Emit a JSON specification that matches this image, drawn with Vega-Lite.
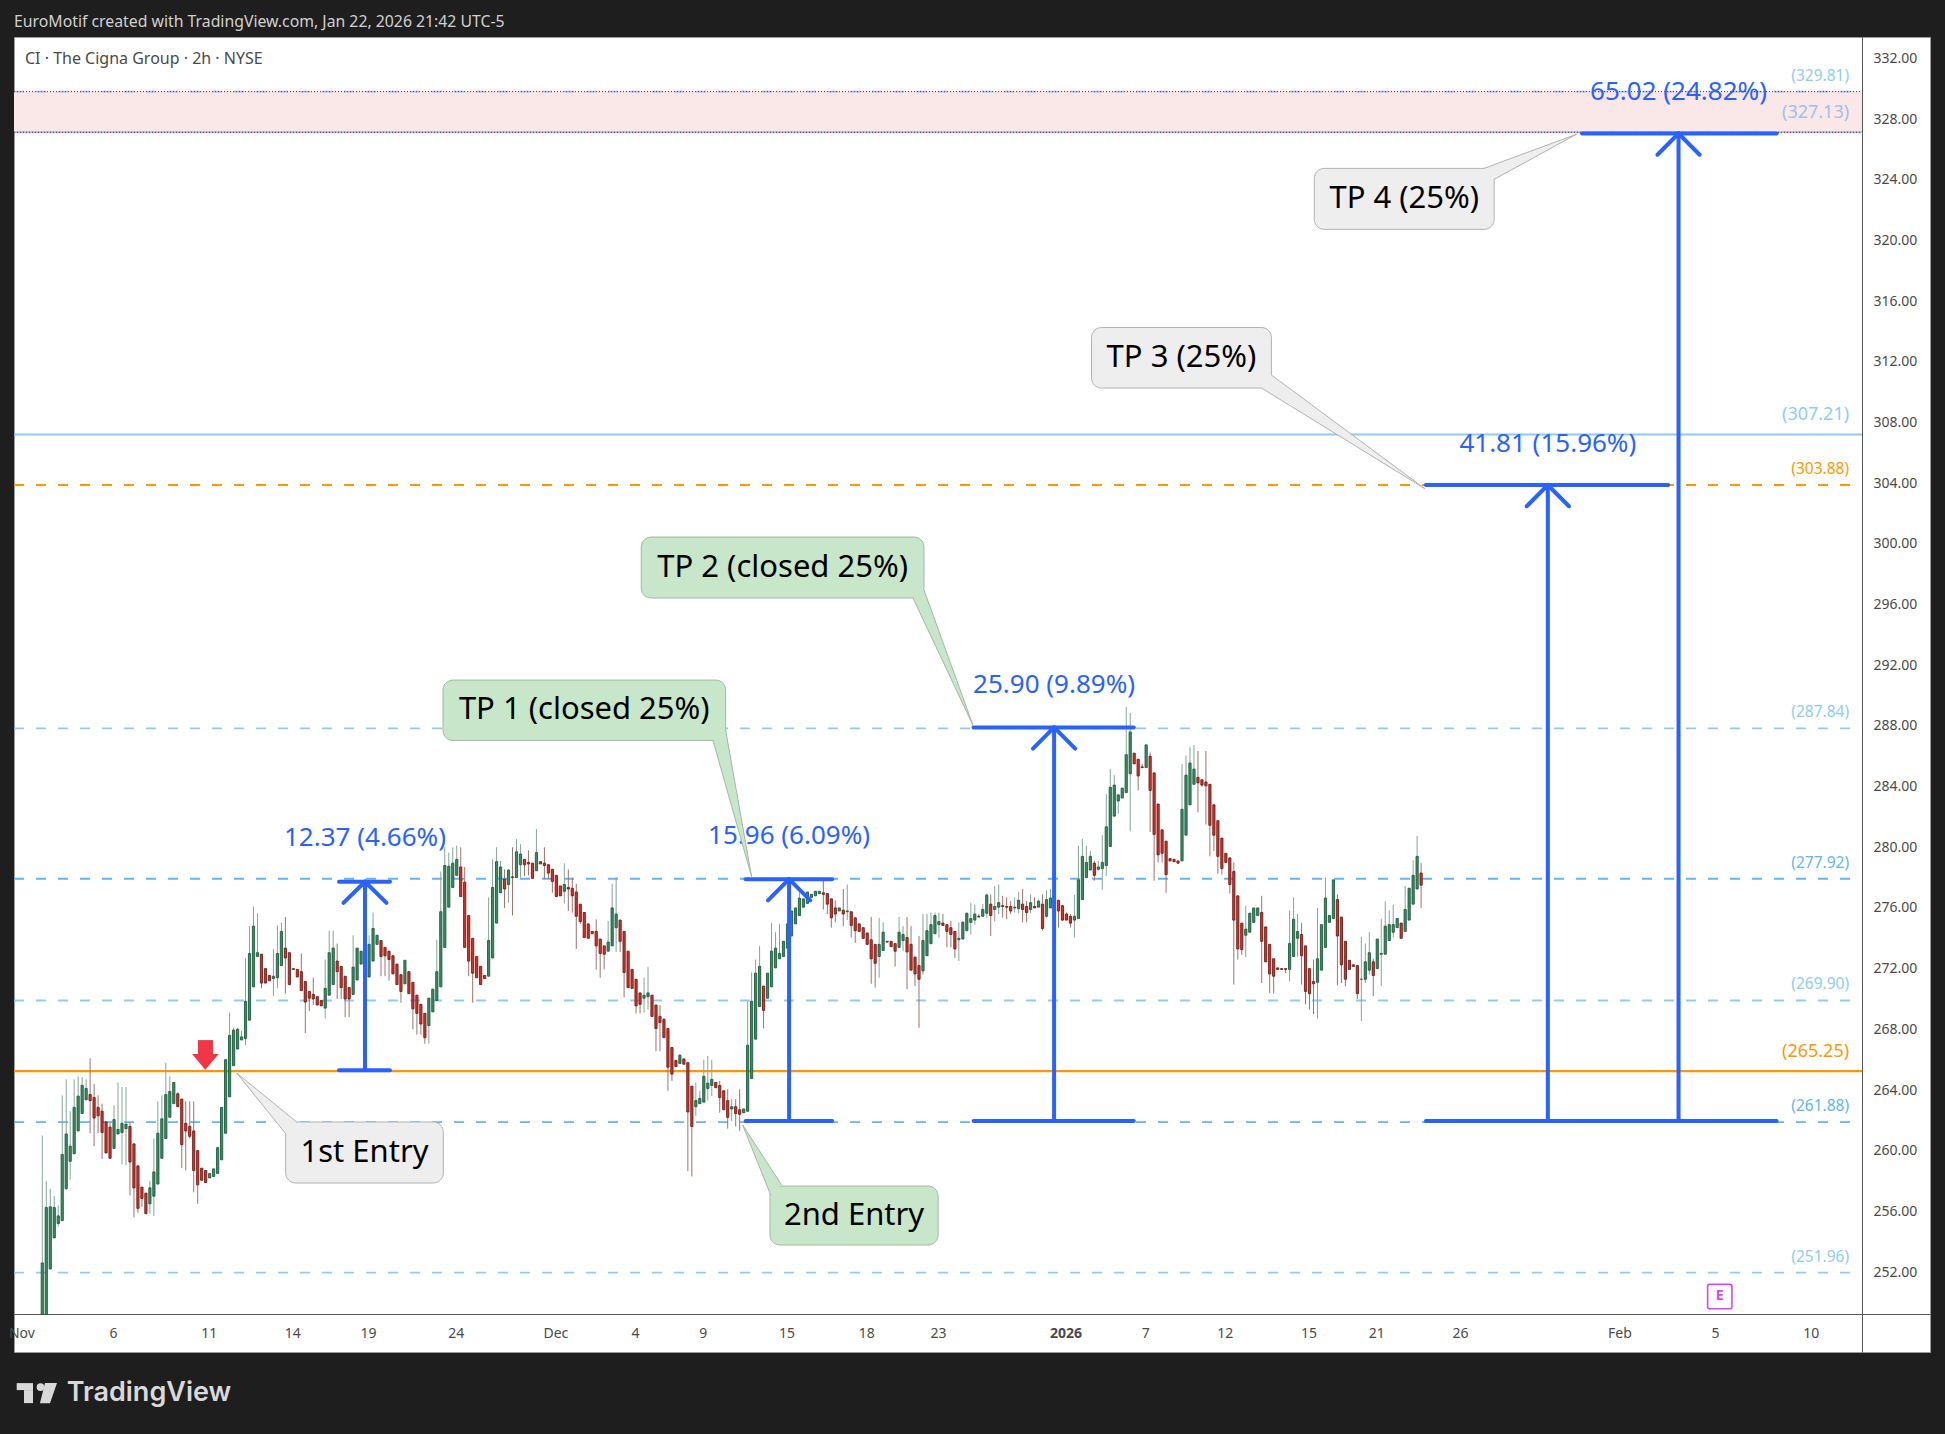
{
"$schema":"https://vega.github.io/schema/vega-lite/v6.json",
"width":1916,"height":1315,
"autosize":{"type":"none"},
"padding":{"left":14,"top":37,"right":15,"bottom":82},
"background":"#1e1e1e",
"config":{"font":"Noto Sans","view":{"fill":"#ffffff","stroke":"#9a9a9a"},"axis":{"title":null,"grid":false,"ticks":false,"domainColor":"#555555","labelColor":"#4a4a4a","labelFontSize":14,"labelPadding":11,"labelOverlap":false,"labelFlush":false}},
"title":{"text":"EuroMotif created with TradingView.com, Jan 22, 2026 21:42 UTC-5","anchor":"start","frame":"group","color":"#d1d1d1","fontSize":15.8,"fontWeight":"normal","offset":6},
"datasets":{
"candles":[
{"i":0,"o":249.2,"h":261,"l":249.2,"c":252.6},{"i":1,"o":249.2,"h":258,"l":249.2,"c":256.25},{"i":2,"o":252.2,"h":257.5,"l":252.2,"c":256.3},{"i":3,"o":254.25,"h":257,"l":254.25,"c":256.25},{"i":4,"o":255.2,"h":256.4,"l":255,"c":255.7},{"i":5,"o":255.4,"h":263.65,"l":255.4,"c":259.75},{"i":6,"o":257.5,"h":264.7,"l":257.4,"c":261.1},{"i":7,"o":259.3,"h":262.6,"l":258.1,"c":260.3},{"i":8,"o":259.8,"h":264.7,"l":259.8,"c":262.85},{"i":9,"o":261.3,"h":264.9,"l":261.3,"c":263.6},
{"i":10,"o":262.45,"h":264.85,"l":262.45,"c":264.3},{"i":11,"o":263.35,"h":264.7,"l":263.35,"c":264.1},{"i":12,"o":263.7,"h":266.1,"l":261.15,"c":263.3},{"i":13,"o":263.5,"h":264.4,"l":260.3,"c":262.15},{"i":14,"o":262.85,"h":263.65,"l":261.15,"c":262.3},{"i":15,"o":262.6,"h":263.1,"l":259.45,"c":261.2},{"i":16,"o":261.9,"h":261.9,"l":259.85,"c":259.85},{"i":17,"o":261.55,"h":261.85,"l":259.5,"c":259.5},{"i":18,"o":260.15,"h":263,"l":260.15,"c":262.05},{"i":19,"o":261.1,"h":264.5,"l":261.1,"c":261.4},
{"i":20,"o":261.2,"h":264.2,"l":259.1,"c":261.8},{"i":21,"o":261.45,"h":264.2,"l":259.05,"c":261.75},{"i":22,"o":261.6,"h":261.85,"l":257.05,"c":259.25},{"i":23,"o":260.45,"h":260.45,"l":255.6,"c":257.55},{"i":24,"o":259,"h":259,"l":255.9,"c":256.2},{"i":25,"o":257.6,"h":257.6,"l":256.3,"c":256.85},{"i":26,"o":257.2,"h":257.2,"l":255.85,"c":255.85},{"i":27,"o":256.5,"h":258,"l":255.85,"c":257.55},{"i":28,"o":257,"h":260.8,"l":255.7,"c":258.6},{"i":29,"o":257.8,"h":263.25,"l":257.8,"c":261.15},
{"i":30,"o":259.5,"h":263.65,"l":259.5,"c":262.1},{"i":31,"o":260.8,"h":265.8,"l":260.8,"c":263.7},{"i":32,"o":262.2,"h":264.9,"l":262.2,"c":263.9},{"i":33,"o":263.1,"h":264.5,"l":263.1,"c":264.5},{"i":34,"o":263.75,"h":263.85,"l":262.9,"c":262.9},{"i":35,"o":263.4,"h":263.4,"l":258.85,"c":260.4},{"i":36,"o":261.8,"h":263.25,"l":258.7,"c":261.3},{"i":37,"o":261.6,"h":263.25,"l":260.8,"c":260.95},{"i":38,"o":261.3,"h":263.25,"l":257.25,"c":258.7},{"i":39,"o":260,"h":260,"l":256.5,"c":257.75},
{"i":40,"o":258.85,"h":258.85,"l":258.05,"c":258.05},{"i":41,"o":258.7,"h":258.7,"l":257.9,"c":257.9},{"i":42,"o":258.2,"h":258.5,"l":258.2,"c":258.5},{"i":43,"o":258.3,"h":258.8,"l":258.3,"c":258.8},{"i":44,"o":258.5,"h":260.2,"l":258.5,"c":260.2},{"i":45,"o":259.4,"h":262.85,"l":259.4,"c":262.85},{"i":46,"o":261.15,"h":266,"l":261.15,"c":266},{"i":47,"o":263.55,"h":269.1,"l":263.55,"c":267.6},{"i":48,"o":265.6,"h":268.1,"l":265.6,"c":267.95},{"i":49,"o":266.7,"h":268.1,"l":266.7,"c":268},
{"i":50,"o":267.3,"h":267.9,"l":267.3,"c":267.5},{"i":51,"o":267.4,"h":272.7,"l":266.95,"c":269.85},{"i":52,"o":268.6,"h":274.8,"l":268.6,"c":273},{"i":53,"o":270.8,"h":276.1,"l":270.8,"c":274.8},{"i":54,"o":272.8,"h":275.65,"l":272.8,"c":273.05},{"i":55,"o":272.95,"h":272.95,"l":270.7,"c":271.05},{"i":56,"o":272,"h":272,"l":271.05,"c":271.05},{"i":57,"o":271.55,"h":271.55,"l":271.2,"c":271.2},{"i":58,"o":271.35,"h":273.3,"l":270.2,"c":271.5},{"i":59,"o":271.4,"h":274.85,"l":270.7,"c":273},
{"i":60,"o":272.2,"h":275.05,"l":272.2,"c":274.45},{"i":61,"o":273.35,"h":275.4,"l":270.35,"c":272.7},{"i":62,"o":273.05,"h":273.05,"l":270.95,"c":270.95},{"i":63,"o":272,"h":272,"l":271.95,"c":271.95},{"i":64,"o":271.95,"h":271.95,"l":271.45,"c":271.45},{"i":65,"o":271.8,"h":273,"l":270.55,"c":270.55},{"i":66,"o":271.15,"h":271.15,"l":267.75,"c":269.8},{"i":67,"o":270.5,"h":270.5,"l":269.2,"c":270.05},{"i":68,"o":270.3,"h":271.4,"l":269.6,"c":270},{"i":69,"o":270.15,"h":270.15,"l":269.6,"c":269.6},
{"i":70,"o":269.9,"h":269.9,"l":269.55,"c":269.55},{"i":71,"o":269.4,"h":272.6,"l":268.7,"c":270.7},{"i":72,"o":270.25,"h":274.5,"l":270.25,"c":273.05},{"i":73,"o":270.95,"h":274.5,"l":270.95,"c":273.35},{"i":74,"o":272.5,"h":273.65,"l":270,"c":271.8},{"i":75,"o":272.15,"h":272.15,"l":270,"c":270.75},{"i":76,"o":271.5,"h":271.5,"l":268.8,"c":270},{"i":77,"o":270.75,"h":270.75,"l":268.8,"c":270},{"i":78,"o":270.3,"h":274.2,"l":270.3,"c":272.1},{"i":79,"o":271.25,"h":273.35,"l":271.25,"c":273.35},
{"i":80,"o":272.3,"h":273.15,"l":272.3,"c":273.15},{"i":81,"o":272.65,"h":274.2,"l":270.3,"c":270.3},{"i":82,"o":271.45,"h":274.2,"l":271.45,"c":273.6},{"i":83,"o":272.5,"h":275.7,"l":272.5,"c":274.65},{"i":84,"o":273.6,"h":274.2,"l":273.6,"c":274.2},{"i":85,"o":273.85,"h":273.85,"l":271.5,"c":272.8},{"i":86,"o":273.4,"h":273.4,"l":271.5,"c":272.85},{"i":87,"o":273.15,"h":273.15,"l":271.2,"c":272.6},{"i":88,"o":272.85,"h":272.85,"l":271.65,"c":271.65},{"i":89,"o":272.3,"h":272.3,"l":270.95,"c":270.95},
{"i":90,"o":271.6,"h":271.6,"l":269.75,"c":270.5},{"i":91,"o":271,"h":272.55,"l":271,"c":272.55},{"i":92,"o":271.8,"h":271.8,"l":270.35,"c":270.35},{"i":93,"o":271.1,"h":271.1,"l":268,"c":269.35},{"i":94,"o":270.25,"h":270.25,"l":267.65,"c":269.05},{"i":95,"o":269.65,"h":269.65,"l":267.65,"c":268.35},{"i":96,"o":269.05,"h":269.05,"l":267.05,"c":267.45},{"i":97,"o":268.25,"h":270.05,"l":267.05,"c":270.05},{"i":98,"o":269.15,"h":270.65,"l":269.15,"c":270.65},{"i":99,"o":269.9,"h":273.9,"l":269.9,"c":271.8},
{"i":100,"o":270.8,"h":278.4,"l":270.8,"c":275.75},{"i":101,"o":273.4,"h":280,"l":273.4,"c":278.8},{"i":102,"o":276.05,"h":279.65,"l":276.05,"c":278.75},{"i":103,"o":277.35,"h":280,"l":277.35,"c":278.95},{"i":104,"o":278.15,"h":280.1,"l":278.15,"c":279.2},{"i":105,"o":278.7,"h":280,"l":276.75,"c":276.75},{"i":106,"o":277.7,"h":278.7,"l":273.4,"c":273.4},{"i":107,"o":275.5,"h":275.5,"l":271.5,"c":272.5},{"i":108,"o":274,"h":274,"l":269.75,"c":271.7},{"i":109,"o":272.8,"h":272.8,"l":271.4,"c":271.4},
{"i":110,"o":272.15,"h":272.15,"l":270.95,"c":270.95},{"i":111,"o":271.55,"h":271.55,"l":271.35,"c":271.35},{"i":112,"o":271.5,"h":276.7,"l":271.5,"c":273.85},{"i":113,"o":272.7,"h":279.2,"l":272.7,"c":277.35},{"i":114,"o":275,"h":280,"l":275,"c":279.05},{"i":115,"o":277,"h":279.1,"l":277,"c":278.7},{"i":116,"o":277.9,"h":278.55,"l":276,"c":277.25},{"i":117,"o":277.55,"h":278.55,"l":276.35,"c":278.5},{"i":118,"o":278.05,"h":280,"l":275.5,"c":278},{"i":119,"o":278,"h":280.55,"l":278,"c":279.7},
{"i":120,"o":278.85,"h":280.2,"l":278,"c":279.55},{"i":121,"o":279.2,"h":279.2,"l":278.1,"c":278.85},{"i":122,"o":279,"h":279.8,"l":278.15,"c":278.9},{"i":123,"o":278.95,"h":278.95,"l":277.95,"c":277.95},{"i":124,"o":278.45,"h":281.2,"l":278.45,"c":279.65},{"i":125,"o":279.05,"h":279.05,"l":278.9,"c":278.9},{"i":126,"o":278.95,"h":280,"l":277.9,"c":278.8},{"i":127,"o":278.85,"h":278.85,"l":277.9,"c":278.3},{"i":128,"o":278.55,"h":278.55,"l":277,"c":277.75},{"i":129,"o":278.15,"h":278.15,"l":276.75,"c":276.75},
{"i":130,"o":277.45,"h":277.45,"l":276.8,"c":276.8},{"i":131,"o":277.1,"h":278.95,"l":276.3,"c":277.55},{"i":132,"o":277.35,"h":278.55,"l":275.8,"c":277.25},{"i":133,"o":277.3,"h":278,"l":275.7,"c":276.8},{"i":134,"o":277.05,"h":277.6,"l":273.3,"c":275.45},{"i":135,"o":276.25,"h":276.25,"l":274.95,"c":275.1},{"i":136,"o":275.7,"h":275.7,"l":274.05,"c":274.05},{"i":137,"o":274.95,"h":274.95,"l":274,"c":274},{"i":138,"o":274.45,"h":274.45,"l":274.3,"c":274.3},{"i":139,"o":274.45,"h":275.25,"l":271.95,"c":273.5},
{"i":140,"o":273.95,"h":273.95,"l":271.4,"c":273},{"i":141,"o":273.5,"h":273.5,"l":271.95,"c":272.95},{"i":142,"o":273.15,"h":275.15,"l":273.15,"c":273.75},{"i":143,"o":273.5,"h":277.6,"l":273.5,"c":276},{"i":144,"o":274.7,"h":278,"l":273.1,"c":275.6},{"i":145,"o":275.2,"h":275.2,"l":273.1,"c":273.8},{"i":146,"o":274.45,"h":274.45,"l":270.1,"c":271.75},{"i":147,"o":273.15,"h":273.15,"l":270.75,"c":270.75},{"i":148,"o":271.95,"h":271.95,"l":270.7,"c":270.7},{"i":149,"o":271.3,"h":271.3,"l":269.05,"c":269.55},
{"i":150,"o":270.4,"h":270.4,"l":269.05,"c":269.65},{"i":151,"o":270.05,"h":271.4,"l":269.1,"c":270.25},{"i":152,"o":270.15,"h":272.1,"l":269.3,"c":270.4},{"i":153,"o":270.25,"h":270.25,"l":268.85,"c":268.85},{"i":154,"o":269.6,"h":269.6,"l":266.55,"c":268.05},{"i":155,"o":268.85,"h":269.6,"l":266.55,"c":268.45},{"i":156,"o":268.65,"h":268.75,"l":267.45,"c":267.45},{"i":157,"o":268.05,"h":268.05,"l":263.95,"c":265.5},{"i":158,"o":266.8,"h":266.8,"l":264.6,"c":265.05},{"i":159,"o":265.95,"h":265.95,"l":265.55,"c":265.55},
{"i":160,"o":265.75,"h":266.3,"l":265.75,"c":266.3},{"i":161,"o":266.05,"h":266.05,"l":265.7,"c":265.7},{"i":162,"o":265.8,"h":265.8,"l":258.65,"c":262.55},{"i":163,"o":264.25,"h":264.25,"l":258.3,"c":261.6},{"i":164,"o":262.9,"h":264.5,"l":262.3,"c":263.3},{"i":165,"o":263.1,"h":263.95,"l":263.1,"c":263.45},{"i":166,"o":263.2,"h":266,"l":263.2,"c":264.9},{"i":167,"o":264.1,"h":266.25,"l":263.3,"c":264.45},{"i":168,"o":264.3,"h":266,"l":263.6,"c":264.7},{"i":169,"o":264.5,"h":264.5,"l":264.15,"c":264.15},
{"i":170,"o":264.3,"h":264.6,"l":262.5,"c":263.5},{"i":171,"o":263.95,"h":263.95,"l":262.7,"c":262.7},{"i":172,"o":263.3,"h":264.05,"l":261.45,"c":262.2},{"i":173,"o":262.75,"h":263.4,"l":261.95,"c":262.9},{"i":174,"o":262.9,"h":263.4,"l":261.6,"c":262.45},{"i":175,"o":262.7,"h":264.05,"l":261.3,"c":262.4},{"i":176,"o":262.5,"h":262.75,"l":262.5,"c":262.75},{"i":177,"o":262.6,"h":269.85,"l":262.6,"c":266.95},{"i":178,"o":264.75,"h":271.75,"l":264.75,"c":269.85},{"i":179,"o":267.35,"h":272.6,"l":267.35,"c":271.7},
{"i":180,"o":269.5,"h":273.5,"l":269.5,"c":272.15},{"i":181,"o":270.85,"h":270.85,"l":268.05,"c":269.25},{"i":182,"o":270.05,"h":271.7,"l":270.05,"c":271.7},{"i":183,"o":270.8,"h":275,"l":270.8,"c":273.15},{"i":184,"o":272.05,"h":274.4,"l":272.05,"c":273.35},{"i":185,"o":272.65,"h":274.95,"l":272.65,"c":273},{"i":186,"o":272.8,"h":273.8,"l":272.8,"c":273.8},{"i":187,"o":273.35,"h":274.95,"l":273.35,"c":274.95},{"i":188,"o":274.15,"h":275.8,"l":274.15,"c":275.8},{"i":189,"o":274.95,"h":276,"l":274.95,"c":276},
{"i":190,"o":275.5,"h":277.35,"l":275.5,"c":276.65},{"i":191,"o":276.05,"h":276.6,"l":276.05,"c":276.6},{"i":192,"o":276.3,"h":277.05,"l":276.3,"c":277.05},{"i":193,"o":276.7,"h":276.9,"l":276.7,"c":276.9},{"i":194,"o":276.8,"h":277.1,"l":276.8,"c":277.1},{"i":195,"o":276.95,"h":277.1,"l":276.95,"c":277.1},{"i":196,"o":277,"h":277.9,"l":275.9,"c":276.9},{"i":197,"o":276.95,"h":276.95,"l":275.6,"c":276.25},{"i":198,"o":276.6,"h":276.6,"l":274.7,"c":275.35},{"i":199,"o":276,"h":276.5,"l":275.05,"c":275.6},
{"i":200,"o":275.8,"h":276,"l":275.8,"c":276},{"i":201,"o":275.85,"h":277.25,"l":274.8,"c":275.6},{"i":202,"o":275.75,"h":277.55,"l":275.2,"c":275.8},{"i":203,"o":275.75,"h":275.75,"l":274.05,"c":274.85},{"i":204,"o":275.35,"h":275.35,"l":273.7,"c":274.5},{"i":205,"o":274.95,"h":274.95,"l":274.45,"c":274.45},{"i":206,"o":274.7,"h":274.7,"l":274,"c":274},{"i":207,"o":274.35,"h":274.35,"l":273.6,"c":273.6},{"i":208,"o":273.9,"h":275.4,"l":271,"c":272.65},{"i":209,"o":273.6,"h":273.6,"l":270.75,"c":272.35},
{"i":210,"o":272.8,"h":275.35,"l":271.4,"c":273.6},{"i":211,"o":273.2,"h":275.05,"l":273.2,"c":274.4},{"i":212,"o":273.8,"h":273.8,"l":273.75,"c":273.75},{"i":213,"o":273.8,"h":273.8,"l":273.45,"c":273.45},{"i":214,"o":273.65,"h":273.65,"l":272.15,"c":273.15},{"i":215,"o":273.4,"h":275.4,"l":273.4,"c":274.4},{"i":216,"o":273.85,"h":274.8,"l":273.15,"c":274.25},{"i":217,"o":274.05,"h":275.4,"l":270.65,"c":273.1},{"i":218,"o":273.6,"h":274.8,"l":271.9,"c":271.9},{"i":219,"o":272.75,"h":272.85,"l":270.85,"c":271.65},
{"i":220,"o":272.2,"h":274.15,"l":268.1,"c":271.3},{"i":221,"o":271.85,"h":275.6,"l":271.6,"c":273.85},{"i":222,"o":272.85,"h":275.6,"l":272.85,"c":274.5},{"i":223,"o":273.65,"h":275.7,"l":273.6,"c":274.9},{"i":224,"o":274.3,"h":275.7,"l":274.3,"c":275.5},{"i":225,"o":274.9,"h":275.7,"l":274.05,"c":275.1},{"i":226,"o":275,"h":275.6,"l":274.85,"c":274.85},{"i":227,"o":274.9,"h":274.9,"l":273.4,"c":274.45},{"i":228,"o":274.7,"h":275.15,"l":273.4,"c":274.25},{"i":229,"o":274.45,"h":274.45,"l":272.7,"c":273.3},
{"i":230,"o":273.9,"h":275.05,"l":272.5,"c":274},{"i":231,"o":273.95,"h":275.15,"l":273.95,"c":275.05},{"i":232,"o":274.5,"h":275.7,"l":274.5,"c":275.65},{"i":233,"o":275.05,"h":276.35,"l":274.25,"c":275.3},{"i":234,"o":275.2,"h":276.2,"l":274.9,"c":275.6},{"i":235,"o":275.45,"h":275.6,"l":275.4,"c":275.4},{"i":236,"o":275.45,"h":276.25,"l":275.45,"c":275.9},{"i":237,"o":275.65,"h":276.95,"l":275.35,"c":276.85},{"i":238,"o":276.25,"h":276.9,"l":274.15,"c":275.5},{"i":239,"o":275.9,"h":277.45,"l":275.1,"c":276.1},
{"i":240,"o":276.05,"h":277.55,"l":275.6,"c":276.35},{"i":241,"o":276.15,"h":276.8,"l":275.35,"c":276.1},{"i":242,"o":276.1,"h":276.7,"l":275.25,"c":276.05},{"i":243,"o":276.1,"h":276.45,"l":275.6,"c":275.8},{"i":244,"o":276,"h":276.7,"l":275.7,"c":276.05},{"i":245,"o":275.95,"h":277.05,"l":275.65,"c":276.5},{"i":246,"o":276.25,"h":277.25,"l":275.05,"c":275.9},{"i":247,"o":276.1,"h":276.45,"l":275.05,"c":275.7},{"i":248,"o":275.9,"h":276.9,"l":275.65,"c":276.35},{"i":249,"o":276.1,"h":276.7,"l":276,"c":276},
{"i":250,"o":276.05,"h":276.55,"l":276.05,"c":276.45},{"i":251,"o":276.25,"h":276.9,"l":274.5,"c":274.65},{"i":252,"o":275.45,"h":277.15,"l":275.35,"c":276.55},{"i":253,"o":276,"h":277.25,"l":276,"c":276.65},{"i":254,"o":276.3,"h":277.1,"l":275.8,"c":276.65},{"i":255,"o":276.5,"h":276.55,"l":274.7,"c":275.8},{"i":256,"o":276.15,"h":276.2,"l":275.15,"c":275.2},{"i":257,"o":275.6,"h":275.7,"l":275.2,"c":275.2},{"i":258,"o":275.45,"h":275.6,"l":274.7,"c":275},{"i":259,"o":275.2,"h":276.85,"l":274.05,"c":275.45},
{"i":260,"o":275.3,"h":280.1,"l":275.3,"c":277.85},{"i":261,"o":276.55,"h":280.55,"l":276.55,"c":279.4},{"i":262,"o":278,"h":280.1,"l":278,"c":279},{"i":263,"o":278.5,"h":279.75,"l":278.5,"c":279.4},{"i":264,"o":278.95,"h":279.1,"l":277.8,"c":278.15},{"i":265,"o":278.55,"h":279.1,"l":278.45,"c":278.7},{"i":266,"o":278.6,"h":280.8,"l":277.2,"c":279},{"i":267,"o":278.8,"h":283.5,"l":278.1,"c":281.35},{"i":268,"o":280.05,"h":285.15,"l":280.05,"c":283.95},{"i":269,"o":282.05,"h":284.75,"l":282.05,"c":284.1},
{"i":270,"o":283.05,"h":283.5,"l":282.2,"c":283.45},{"i":271,"o":283.25,"h":283.9,"l":283.25,"c":283.9},{"i":272,"o":283.6,"h":289.25,"l":283.6,"c":286.1},{"i":273,"o":284.85,"h":288.85,"l":281.05,"c":287.6},{"i":274,"o":286.2,"h":286.2,"l":285.5,"c":285.5},{"i":275,"o":285.8,"h":285.8,"l":283.75,"c":284.7},{"i":276,"o":285.3,"h":285.5,"l":285.25,"c":285.25},{"i":277,"o":285.25,"h":286.75,"l":285.25,"c":286.75},{"i":278,"o":286,"h":286.25,"l":281,"c":283.75},{"i":279,"o":284.9,"h":284.9,"l":277.8,"c":280.85},
{"i":280,"o":282.85,"h":282.85,"l":279,"c":279.5},{"i":281,"o":281.15,"h":281.15,"l":279,"c":279.6},{"i":282,"o":280.4,"h":280.4,"l":277,"c":278.2},{"i":283,"o":279.25,"h":279.25,"l":279.1,"c":279.1},{"i":284,"o":279.2,"h":279.2,"l":279.05,"c":279.05},{"i":285,"o":279.1,"h":279.1,"l":278.95,"c":278.95},{"i":286,"o":279.1,"h":285.5,"l":279.1,"c":282.5},{"i":287,"o":280.8,"h":286.05,"l":280.8,"c":284.75},{"i":288,"o":282.8,"h":286.6,"l":282.8,"c":285.55},{"i":289,"o":284.15,"h":286.75,"l":284.15,"c":285.15},
{"i":290,"o":284.6,"h":286.35,"l":282.3,"c":284.25},{"i":291,"o":284.45,"h":284.45,"l":284,"c":284.1},{"i":292,"o":284.3,"h":286.35,"l":281.5,"c":284.05},{"i":293,"o":284.15,"h":284.15,"l":279.4,"c":281.45},{"i":294,"o":282.8,"h":282.8,"l":279.75,"c":280.8},{"i":295,"o":281.75,"h":281.75,"l":278.25,"c":279.4},{"i":296,"o":280.6,"h":280.6,"l":278.2,"c":278.6},{"i":297,"o":279.6,"h":279.6,"l":279,"c":279},{"i":298,"o":279.3,"h":279.3,"l":276.95,"c":277.55},{"i":299,"o":278.4,"h":279,"l":270.95,"c":275.2},
{"i":300,"o":276.8,"h":276.8,"l":272.6,"c":273.3},{"i":301,"o":275,"h":275,"l":272.9,"c":273.25},{"i":302,"o":274.2,"h":276.15,"l":272.75,"c":274.6},{"i":303,"o":274.4,"h":275.65,"l":274.4,"c":275.65},{"i":304,"o":275.05,"h":276,"l":275.05,"c":276},{"i":305,"o":275.5,"h":276,"l":275.5,"c":276},{"i":306,"o":275.7,"h":276.8,"l":271.05,"c":273.8},{"i":307,"o":274.75,"h":274.75,"l":272.45,"c":272.45},{"i":308,"o":273.6,"h":273.6,"l":270.4,"c":271.65},{"i":309,"o":272.65,"h":272.65,"l":270.35,"c":271.5},
{"i":310,"o":272.05,"h":272.05,"l":271.95,"c":271.95},{"i":311,"o":272,"h":272,"l":271.95,"c":271.95},{"i":312,"o":272,"h":272,"l":271.7,"c":271.95},{"i":313,"o":271.95,"h":275.85,"l":271.15,"c":273.65},{"i":314,"o":272.8,"h":276.7,"l":272.8,"c":275.25},{"i":315,"o":274,"h":275.6,"l":272.8,"c":274.45},{"i":316,"o":274.25,"h":275,"l":270.95,"c":272.85},{"i":317,"o":273.5,"h":273.5,"l":269.65,"c":270.5},{"i":318,"o":272,"h":272,"l":269.3,"c":270.35},{"i":319,"o":271.15,"h":272.6,"l":269,"c":271},
{"i":320,"o":271.1,"h":276,"l":268.7,"c":272.65},{"i":321,"o":271.9,"h":274.9,"l":271.9,"c":274.9},{"i":322,"o":273.4,"h":278,"l":273.4,"c":276.65},{"i":323,"o":275.05,"h":275.5,"l":275.05,"c":275.5},{"i":324,"o":275.3,"h":277.85,"l":275.3,"c":277.85},{"i":325,"o":276.55,"h":276.9,"l":270.9,"c":274.15},{"i":326,"o":275.4,"h":275.4,"l":271.05,"c":272.25},{"i":327,"o":273.8,"h":273.8,"l":270.85,"c":271.3},{"i":328,"o":272.55,"h":272.55,"l":271.95,"c":271.95},{"i":329,"o":272.25,"h":272.25,"l":272.15,"c":272.15},
{"i":330,"o":272.2,"h":272.25,"l":270,"c":270.35},{"i":331,"o":271.3,"h":274.1,"l":268.55,"c":271.3},{"i":332,"o":271.3,"h":273.65,"l":271.05,"c":272.45},{"i":333,"o":271.9,"h":274.4,"l":271.6,"c":273.05},{"i":334,"o":272.45,"h":272.65,"l":270.2,"c":271.55},{"i":335,"o":272,"h":273.95,"l":272,"c":273.95},{"i":336,"o":272.95,"h":275.3,"l":270.85,"c":273},{"i":337,"o":272.95,"h":276.45,"l":272.95,"c":274.8},{"i":338,"o":273.85,"h":275.85,"l":273.85,"c":274.9},{"i":339,"o":274.4,"h":276.2,"l":274.05,"c":274.9},
{"i":340,"o":274.7,"h":275.3,"l":274.7,"c":275.3},{"i":341,"o":275,"h":275,"l":274,"c":274},{"i":342,"o":274.45,"h":277.45,"l":274.45,"c":275.9},{"i":343,"o":275.2,"h":277.3,"l":275.2,"c":277.3},{"i":344,"o":276.25,"h":279.15,"l":276.25,"c":278.15},{"i":345,"o":277.25,"h":280.75,"l":277.25,"c":279.4},{"i":346,"o":278.3,"h":278.95,"l":276,"c":277.5}
],
"levels":[
{"i":-7.1,"i2":456.64,"p":329.81,"kind":"lb","line":"dash"},
{"i":-7.1,"i2":456.64,"p":327.13,"kind":"tp","line":"solid"},
{"i":-7.1,"i2":456.64,"p":307.21,"kind":"lb","line":"solid"},
{"i":-7.1,"i2":456.64,"p":303.88,"kind":"or","line":"dash"},
{"i":-7.1,"i2":456.64,"p":287.84,"kind":"lb","line":"dash"},
{"i":-7.1,"i2":456.64,"p":277.92,"kind":"mb","line":"dash"},
{"i":-7.1,"i2":456.64,"p":269.9,"kind":"lb","line":"dash"},
{"i":-7.1,"i2":456.64,"p":265.25,"kind":"or","line":"solid"},
{"i":-7.1,"i2":456.64,"p":261.88,"kind":"mb","line":"dash"},
{"i":-7.1,"i2":456.64,"p":251.96,"kind":"lb","line":"dash"}
],
"levelLabels":[
{"i":453.4,"p":329.81,"kind":"lb","label":"(329.81)","big":false},
{"i":453.4,"p":327.13,"kind":"tp","label":"(327.13)","big":true},
{"i":453.4,"p":307.21,"kind":"lb","label":"(307.21)","big":true},
{"i":453.4,"p":303.88,"kind":"or","label":"(303.88)","big":false},
{"i":453.4,"p":287.84,"kind":"lb","label":"(287.84)","big":false},
{"i":453.4,"p":277.92,"kind":"mb","label":"(277.92)","big":false},
{"i":453.4,"p":269.9,"kind":"lb","label":"(269.90)","big":false},
{"i":453.4,"p":265.25,"kind":"or","label":"(265.25)","big":true},
{"i":453.4,"p":261.88,"kind":"mb","label":"(261.88)","big":false},
{"i":453.4,"p":251.96,"kind":"lb","label":"(251.96)","big":false}
],
"zone":[{"i":-7.1,"i2":456.64,"p":329.81,"p2":327.13}],
"tools":[
{"i":80.98,"i2":80.98,"p":265.3,"p2":277.73},{"i":74.45,"i2":87.25,"p":265.3,"p2":265.3},{"i":74.45,"i2":87.25,"p":277.73,"p2":277.73},{"i":80.98,"i2":75.58,"p":277.73,"p2":276.33},{"i":80.98,"i2":86.38,"p":277.73,"p2":276.33},
{"i":187.4,"i2":187.4,"p":261.95,"p2":277.9},{"i":176.5,"i2":198.2,"p":261.95,"p2":261.95},{"i":176.5,"i2":198.2,"p":277.9,"p2":277.9},{"i":187.4,"i2":182.1,"p":277.9,"p2":276.5},{"i":187.4,"i2":192.7,"p":277.9,"p2":276.5},
{"i":253.9,"i2":253.9,"p":261.95,"p2":287.9},{"i":233.7,"i2":273.9,"p":261.95,"p2":261.95},{"i":233.7,"i2":273.9,"p":287.9,"p2":287.9},{"i":253.9,"i2":248.6,"p":287.9,"p2":286.5},{"i":253.9,"i2":259.2,"p":287.9,"p2":286.5},
{"i":377.8,"i2":377.8,"p":261.95,"p2":303.88},{"i":347.2,"i2":408,"p":261.95,"p2":261.95},{"i":347.2,"i2":408,"p":303.88,"p2":303.88},{"i":377.8,"i2":372.5,"p":303.88,"p2":302.48},{"i":377.8,"i2":383.1,"p":303.88,"p2":302.48},
{"i":410.6,"i2":410.6,"p":261.95,"p2":327.05},{"i":386.4,"i2":435.2,"p":261.95,"p2":261.95},{"i":386.4,"i2":435.2,"p":327.05,"p2":327.05},{"i":410.6,"i2":405.3,"p":327.05,"p2":325.65},{"i":410.6,"i2":415.9,"p":327.05,"p2":325.65}
],
"toolLabels":[
{"i":80.98,"p":280.58,"label":"12.37 (4.66%)"},
{"i":187.4,"p":280.74,"label":"15.96 (6.09%)"},
{"i":253.9,"p":290.7,"label":"25.90 (9.89%)"},
{"i":377.8,"p":306.6,"label":"41.81 (15.96%)"},
{"i":410.6,"p":329.8,"label":"65.02 (24.82%)"}
],
"boxes":[
{"i":61.08,"i2":100.63,"p":261.89,"p2":257.87,"k":"grey"},
{"i":182.6,"i2":224.8,"p":257.67,"p2":253.78,"k":"green"},
{"i":100.55,"i2":171.47,"p":291.02,"p2":287.04,"k":"green"},
{"i":150.3,"i2":221.25,"p":300.45,"p2":296.43,"k":"green"},
{"i":263.29,"i2":308.43,"p":314.26,"p2":310.27,"k":"grey"},
{"i":319.2,"i2":364.34,"p":324.75,"p2":320.73,"k":"grey"}
],
"boxLabels":[
{"i":80.85,"p":259.88,"label":"1st Entry"},
{"i":203.7,"p":255.72,"label":"2nd Entry"},
{"i":136,"p":289.03,"label":"TP 1 (closed 25%)"},
{"i":185.78,"p":298.44,"label":"TP 2 (closed 25%)"},
{"i":285.86,"p":312.26,"label":"TP 3 (25%)"},
{"i":341.77,"p":322.74,"label":"TP 4 (25%)"}
],
"shapes":[
{"id":"t1","k":"grey","i":48.78,"p":265.12,"p2":265.12},{"id":"t1","k":"grey","i":61.08,"p":261.12,"p2":262.48},{"id":"t1","k":"grey","i":63.84,"p":261.89,"p2":261.89},
{"id":"t2","k":"green","i":175.76,"p":261.69,"p2":261.69},{"id":"t2","k":"green","i":182.78,"p":257.08,"p2":258.85},{"id":"t2","k":"green","i":185.55,"p":257.73,"p2":257.73},
{"id":"t3","k":"green","i":168.3,"p":287.04,"p2":287.04},{"id":"t3","k":"green","i":171.47,"p":287.73,"p2":284.11},{"id":"t3","k":"green","i":178,"p":278.06,"p2":278.06},
{"id":"t4","k":"green","i":218.49,"p":296.43,"p2":296.43},{"id":"t4","k":"green","i":221.25,"p":296.96,"p2":294.89},{"id":"t4","k":"green","i":233.56,"p":288.03,"p2":288.03},
{"id":"t5","k":"grey","i":305.95,"p":310.27,"p2":310.27},{"id":"t5","k":"grey","i":308.43,"p":311.13,"p2":309.87},{"id":"t5","k":"grey","i":346.98,"p":303.63,"p2":303.63},
{"id":"t6","k":"grey","i":361.78,"p":324.75,"p2":324.75},{"id":"t6","k":"grey","i":364.34,"p":324.03,"p2":325},{"id":"t6","k":"grey","i":385,"p":327,"p2":327},
{"id":"a1","k":"red","i":37.57,"p":266.37,"p2":266.37},{"id":"a1","k":"red","i":40.9,"p":265.34,"p2":266.37},{"id":"a1","k":"red","i":44.27,"p":266.37,"p2":266.37},
{"id":"a2","k":"red","i":39.07,"p":267.29,"p2":266.3},{"id":"a2","k":"red","i":42.84,"p":267.29,"p2":266.3},
{"id":"l1","k":"logo","i":-6.42,"p":244.68,"p2":244.22},{"id":"l1","k":"logo","i":-2.33,"p":244.68,"p2":244.22},
{"id":"l2","k":"logo","i":-4.59,"p":244.22,"p2":243.36},{"id":"l2","k":"logo","i":-2.33,"p":244.22,"p2":243.36},
{"id":"l3","k":"logo","i":-0.58,"p":243.36,"p2":243.36},{"id":"l3","k":"logo","i":0.68,"p":244.68,"p2":243.36},{"id":"l3","k":"logo","i":1.93,"p":244.68,"p2":243.36},{"id":"l3","k":"logo","i":3.69,"p":244.68,"p2":244.68}
],
"edges":[
{"k":"grey","i":48.78,"p":265.12,"i2":63.84,"p2":261.89},{"k":"grey","i":48.78,"p":265.12,"i2":61.08,"p2":261.12},
{"k":"green","i":175.76,"p":261.69,"i2":185.55,"p2":257.73},{"k":"green","i":175.76,"p":261.69,"i2":182.78,"p2":257.08},
{"k":"green","i":178,"p":278.06,"i2":168.3,"p2":287.04},{"k":"green","i":178,"p":278.06,"i2":171.47,"p2":287.73},
{"k":"green","i":233.56,"p":288.03,"i2":218.49,"p2":296.43},{"k":"green","i":233.56,"p":288.03,"i2":221.25,"p2":296.96},
{"k":"grey","i":346.98,"p":303.63,"i2":305.95,"p2":310.27},{"k":"grey","i":346.98,"p":303.63,"i2":308.43,"p2":311.13},
{"k":"grey","i":385,"p":327,"i2":361.78,"p2":324.75},{"k":"grey","i":385,"p":327,"i2":364.34,"p2":324.03}
],
"earnings":[{"i":417.9,"i2":424,"p":251.19,"p2":249.58}],
"earningsLabel":[{"i":420.95,"p":250.39,"label":"E"}],
"header":[{"i":-4.34,"p":331.95,"label":"CI · The Cigna Group · 2h · NYSE"}],
"logoText":[{"i":6.12,"p":244.02,"label":"TradingView"}],
"logoDot":[{"i":-0.45,"p":244.42}]
},
"encoding":{
"x":{"field":"i","type":"quantitative","scale":{"domain":[-7.1,473.7],"nice":false,"zero":false,"padding":0},
"axis":{"orient":"bottom","offset":-38,"labelOffset":-1,"labelPadding":12,
"values":[-5,18,42,63,82,104,129,149,166,187,207,225,257,277,297,318,335,356,396,420,444],
"labelExpr":"({'-5':'Nov','18':'6','42':'11','63':'14','82':'19','104':'24','129':'Dec','149':'4','166':'9','187':'15','207':'18','225':'23','257':'2026','277':'7','297':'12','318':'15','335':'21','356':'26','396':'Feb','420':'5','444':'10'})[datum.value]",
"labelFontWeight":{"condition":{"test":"datum.value==257","value":"bold"},"value":"normal"}}},
"y":{"field":"p","type":"quantitative","scale":{"domain":[246.73,333.41],"nice":false,"zero":false,"padding":0},
"axis":{"orient":"right","offset":-68,"format":".2f","values":[252,256,260,264,268,272,276,280,284,288,292,296,300,304,308,312,316,320,324,328,332]}}
},
"layer":[
{"data":{"name":"zone"},"mark":{"type":"rect","color":"#fae8e9"},"encoding":{"x2":{"field":"i2"},"y2":{"field":"p2"}}},
{"data":{"name":"levels"},"mark":{"type":"rule","strokeWidth":1.9},"encoding":{
"x2":{"field":"i2"},
"color":{"field":"kind","type":"nominal","legend":null,"scale":{"domain":["lb","mb","or","tp"],"range":["#90caf9","#64b5f6","#ff9800","#9fc0ea"]}},
"strokeDash":{"field":"line","type":"nominal","legend":null,"scale":{"domain":["solid","dash"],"range":[[1,0],[10,12]]}}}},
{"data":{"name":"levels"},"transform":[{"filter":"datum.p==265.25"}],"mark":{"type":"rule","strokeWidth":2.2,"color":"#ff9800"},"encoding":{"x2":{"field":"i2"}}},
{"data":{"name":"levels"},"transform":[{"filter":"datum.p==329.81||datum.p==327.13"}],"mark":{"type":"rule","strokeWidth":1,"color":"#d00000","strokeDash":[1,2]},"encoding":{"x2":{"field":"i2"}}},
{"data":{"name":"candles"},"mark":{"type":"rule","strokeWidth":1},"encoding":{
"y":{"field":"h","type":"quantitative","scale":{"domain":[246.73,333.41],"nice":false,"zero":false,"padding":0},"axis":{"orient":"right","offset":-68,"format":".2f","values":[252,256,260,264,268,272,276,280,284,288,292,296,300,304,308,312,316,320,324,328,332]}},
"y2":{"field":"l"},
"color":{"condition":{"test":"datum.c>=datum.o","value":"#86a597"},"value":"#9e726c"}}},
{"data":{"name":"candles"},"mark":{"type":"bar","size":2.2,"strokeWidth":0.9},"encoding":{
"y":{"field":"o","type":"quantitative","scale":{"domain":[246.73,333.41],"nice":false,"zero":false,"padding":0},"axis":{"orient":"right","offset":-68,"format":".2f","values":[252,256,260,264,268,272,276,280,284,288,292,296,300,304,308,312,316,320,324,328,332]}},
"y2":{"field":"c"},
"fill":{"condition":{"test":"datum.c>=datum.o","value":"#3c8a63"},"value":"#d0342c"},
"stroke":{"condition":{"test":"datum.c>=datum.o","value":"#1f5c3f"},"value":"#6e1c16"}}},
{"data":{"name":"tools"},"mark":{"type":"rule","strokeWidth":4,"color":"#2962ff","strokeCap":"round"},"encoding":{"x2":{"field":"i2"},"y2":{"field":"p2"}}},
{"data":{"name":"toolLabels"},"mark":{"type":"text","color":"#2962ff","fontSize":26,"align":"center","baseline":"middle"},"encoding":{"text":{"field":"label"}}},
{"data":{"name":"levelLabels"},"transform":[{"filter":"datum.big"}],"mark":{"type":"text","fontSize":18,"align":"right","baseline":"middle","dy":-19},"encoding":{
"text":{"field":"label"},
"color":{"field":"kind","type":"nominal","legend":null,"scale":{"domain":["lb","mb","or","tp"],"range":["#90caf9","#64b5f6","#ff9800","#9fc0ea"]}}}},
{"data":{"name":"levelLabels"},"transform":[{"filter":"!datum.big"}],"mark":{"type":"text","fontSize":15.5,"align":"right","baseline":"middle","dy":-16},"encoding":{
"text":{"field":"label"},
"color":{"field":"kind","type":"nominal","legend":null,"scale":{"domain":["lb","mb","or","tp"],"range":["#90caf9","#64b5f6","#ff9800","#9fc0ea"]}}}},
{"data":{"name":"boxes"},"mark":{"type":"rect","cornerRadius":10,"strokeWidth":1},"encoding":{
"x2":{"field":"i2"},"y2":{"field":"p2"},
"fill":{"field":"k","type":"nominal","legend":null,"scale":{"domain":["grey","green","red","logo"],"range":["#eeeeee","#c8e6c9","#f23645","#d9d9d9"]}},
"stroke":{"field":"k","type":"nominal","legend":null,"scale":{"domain":["grey","green"],"range":["#b2b2b2","#a3b8a4"]}}}},
{"data":{"name":"shapes"},"mark":{"type":"area","opacity":1,"line":false},"encoding":{
"y2":{"field":"p2"},
"detail":{"field":"id"},
"fill":{"field":"k","type":"nominal","legend":null,"scale":{"domain":["grey","green","red","logo"],"range":["#eeeeee","#c8e6c9","#f23645","#d9d9d9"]}}}},
{"data":{"name":"edges"},"mark":{"type":"rule","strokeWidth":1},"encoding":{
"x2":{"field":"i2"},"y2":{"field":"p2"},
"stroke":{"field":"k","type":"nominal","legend":null,"scale":{"domain":["grey","green"],"range":["#b2b2b2","#a3b8a4"]}}}},
{"data":{"name":"boxLabels"},"mark":{"type":"text","color":"#000000","fontSize":31,"align":"center","baseline":"middle"},"encoding":{"text":{"field":"label"}}},
{"data":{"name":"earnings"},"mark":{"type":"rect","cornerRadius":2,"fill":"#ffffff","stroke":"#e040fb","strokeWidth":1.6},"encoding":{"x2":{"field":"i2"},"y2":{"field":"p2"}}},
{"data":{"name":"earningsLabel"},"mark":{"type":"text","color":"#e040fb","fontSize":14,"fontWeight":"bold","align":"center","baseline":"middle"},"encoding":{"text":{"field":"label"}}},
{"data":{"name":"header"},"mark":{"type":"text","color":"#4a4a4a","fontSize":16,"align":"left","baseline":"middle"},"encoding":{"text":{"field":"label"}}},
{"data":{"name":"logoText"},"mark":{"type":"text","color":"#d9d9d9","fontSize":27,"fontWeight":600,"font":"Inter","align":"left","baseline":"middle"},"encoding":{"text":{"field":"label"}}},
{"data":{"name":"logoDot"},"mark":{"type":"point","filled":true,"color":"#d9d9d9","size":60,"opacity":1}}
]
}
